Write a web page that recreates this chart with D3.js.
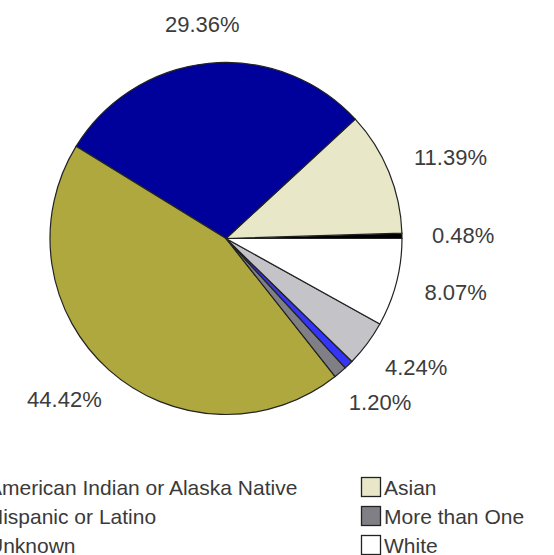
<!DOCTYPE html>
<html>
<head>
<meta charset="utf-8">
<script src="https://cdn.jsdelivr.net/npm/d3@7"></script>
<style>
  html, body { margin: 0; padding: 0; background: #fff; overflow: hidden; }
  svg { display: block; }
  text { font-family: Arial, "Liberation Sans", sans-serif; }
</style>
</head>
<body>
<svg id="chart" width="554" height="555"></svg>
<script>
// ---- data ----
const categories = [
  "American Indian or Alaska Native",
  "Asian",
  "Black or African American",
  "Hispanic or Latino",
  "More than One",
  "Native Hawaiian or Other Pacific Islander",
  "Unknown",
  "White"
];
const values = [0.48, 11.39, 29.36, 44.42, 1.20, 0.84, 4.24, 8.07];
const sliceLabels = ["0.48%", "11.39%", "29.36%", "44.42%", "1.20%", null, "4.24%", "8.07%"];
const colors = ["#000000", "#e8e8c9", "#00009a", "#aea83e", "#7f7f85", "#3535f5", "#c3c3c8", "#ffffff"];

// ---- layout ----
const W = 554, H = 555;
const cx = 226, cy = 238.5, R = 176;
const svg = d3.select("#chart");

const data = categories.map((c, i) => ({ name: c, value: values[i], label: sliceLabels[i], color: colors[i] }));

const pie = d3.pie()
  .sort(null)
  .value(d => d.value)
  .startAngle(Math.PI / 2)
  .endAngle(Math.PI / 2 - 2 * Math.PI);

const arcs = pie(data);
const arc = d3.arc().innerRadius(0).outerRadius(R);

const g = svg.append("g").attr("transform", `translate(${cx},${cy})`);

g.selectAll("path.slice")
  .data(arcs)
  .enter().append("path")
  .attr("class", "slice")
  .attr("d", arc)
  .attr("fill", d => d.data.color)
  .attr("stroke", "#222")
  .attr("stroke-width", 1.2)
  .attr("stroke-linejoin", "round");

// ---- labels ----
const gap = 30, halfH = 9;
const labelG = svg.append("g");
arcs.filter(d => d.data.label).forEach(d => {
  const t = labelG.append("text")
    .attr("text-anchor", "middle")
    .attr("font-size", 22)
    .attr("fill", "#3c3c3c")
    .text(d.data.label);
  const hw = t.node().getComputedTextLength() / 2;
  const a = (d.startAngle + d.endAngle) / 2;
  const sx = Math.sin(a), sy = -Math.cos(a);
  const x = cx + (R + gap) * sx + hw * sx;
  const y = cy + (R + gap) * sy + halfH * sy;
  t.attr("x", x).attr("y", y + 0.36 * 22);
});

// ---- legend (3 columns, row-major) ----
const legCols = 3;
const colX = d3.scaleLinear().domain([0, 1]).range([-35, 361]);
const rowY = d3.scaleLinear().domain([0, 1]).range([477, 506]);
const leg = svg.append("g");
data.forEach((d, i) => {
  const col = i % legCols, row = Math.floor(i / legCols);
  const x = colX(col), y = rowY(row);
  leg.append("rect")
    .attr("x", x + 0.5).attr("y", y + 0.5)
    .attr("width", 19).attr("height", 19)
    .attr("fill", d.color)
    .attr("stroke", "#222")
    .attr("stroke-width", 1.3);
  leg.append("text")
    .attr("x", x + 23)
    .attr("y", y + 10 + 0.36 * 21)
    .attr("font-size", 21)
    .attr("fill", "#3a3a3a")
    .text(d.name);
});
</script>
</body>
</html>
